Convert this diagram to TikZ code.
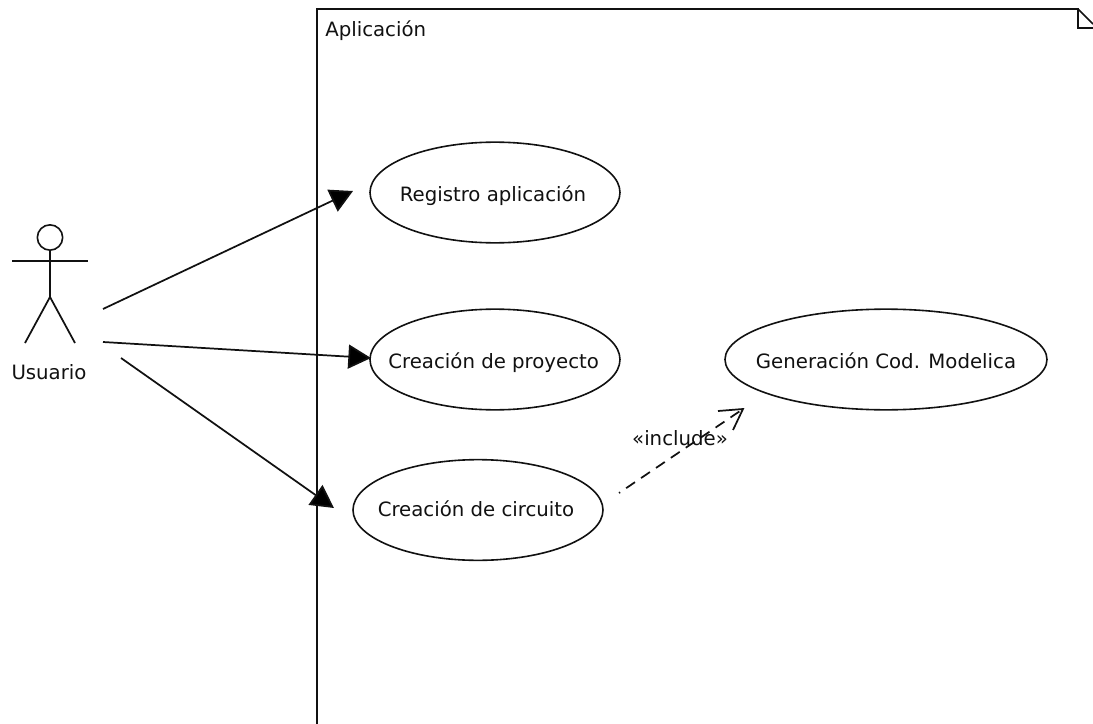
\documentclass[tikz,border=0pt]{standalone}
\usepackage{fontspec}
\setmainfont{DejaVu Sans}
\usetikzlibrary{shapes.geometric,arrows.meta}
\definecolor{ink}{HTML}{111111}
\newcommand{\uctext}[3]{\smash{\makebox[0pt]{\hspace{#1pt}\raisebox{#2pt}{#3}}}}
\tikzset{
 usecase/.style={draw=ink,ellipse,line width=1.2pt,minimum width=#1*0.75pt,inner sep=0pt,font=\fontsize{14.8pt}{16pt}\selectfont,text=ink},
 umlline/.style={draw=ink,line width=1.3pt},
 assoc/.style={umlline,-{Triangle[length=17pt,width=18pt,fill=black]}},
 incl/.style={umlline,dash pattern=on 8pt off 5.5pt,dash phase=7pt},
 inclhead/.style={umlline,line join=miter},
 lbl/.style={inner sep=0pt,text=ink,font=\fontsize{14.8pt}{16pt}\selectfont}
}
\begin{document}
\begin{tikzpicture}[x=0.75pt,y=-0.75pt]
\useasboundingbox (0,0) rectangle (1093,724);
\fill[white] (0,0) rectangle (1093,724);
% frame
\coordinate (fbl) at (317,724);
\coordinate (ftl) at (317,9);
\coordinate (ftr) at (1078,9);
\coordinate (fn) at (1078,28);
\coordinate (fr) at (1093,28);
\coordinate (fd) at (1093,24);
\draw[umlline] (fbl) -- (ftl) -- (ftr) -- (fn) -- (fr);
\draw[umlline] (ftr) -- (fd);
\node[lbl,anchor=west] (ftitle) at (325,31) {Aplicación};
% use cases
\node[usecase=250,minimum height=75.5pt] (reg) at (495,192.5) {\uctext{-3}{-6.7}{Registro aplicación}};
\node[usecase=250,minimum height=75.5pt] (pro) at (495,359.5) {\uctext{-2}{-7}{Creación de proyecto}};
\node[usecase=250,minimum height=75.5pt] (cir) at (478,510) {\uctext{-3}{-5.2}{Creación de circuito}};
\node[usecase=322,minimum height=75.5pt] (gen) at (886,359.5) {\uctext{0}{-7}{Generación Cod. Modelica}};
% actor
\node[draw=ink,circle,line width=1.2pt,minimum size=19pt,inner sep=0pt] (head) at (50,237.5) {};
\coordinate (neck) at (50,261);
\coordinate (armL) at (12,261);
\coordinate (armR) at (88,261);
\coordinate (hip) at (50,297);
\coordinate (legL) at (25,343);
\coordinate (legR) at (75,343);
\draw[umlline] (head) -- (hip);
\draw[umlline] (armL) -- (armR);
\draw[umlline] (legL) -- (hip) -- (legR);
\node[lbl] (usr) at (49,372) {Usuario};
% connectors
\coordinate (a1s) at (103,309);
\coordinate (a1e) at (353,191);
\coordinate (a2s) at (103,342);
\coordinate (a2e) at (371,358);
\coordinate (a3s) at (121,358);
\coordinate (a3e) at (334,508);
\draw[assoc] (a1s) -- (a1e);
\draw[assoc] (a2s) -- (a2e);
\draw[assoc] (a3s) -- (a3e);
\coordinate (is) at (619,493);
\coordinate (ie) at (743,409);
\coordinate (iw1) at (718,411);
\coordinate (iw2) at (733,430);
\draw[incl] (is) -- (ie);
\draw[inclhead] (iw1) -- (ie) -- (iw2);
\node[lbl] (inc) at (680,438) {«include»};
\end{tikzpicture}
\end{document}
